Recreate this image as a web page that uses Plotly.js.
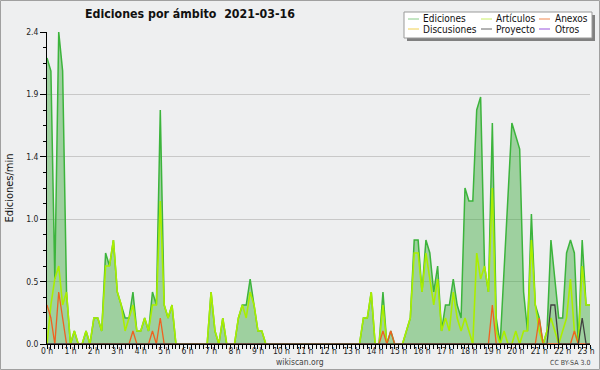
<!DOCTYPE html>
<html>
<head>
<meta charset="utf-8">
<script src="https://cdn.plot.ly/plotly-3.0.1.min.js"></script>
<style>
html,body{margin:0;padding:0;background:#eeeff0;}
#chart{width:600px;height:370px;}
</style>
</head>
<body>
<div id="chart"></div>
<script>
// ---- data (edits per minute, 10-minute steps from 0:00 to 23:10) ----
const hourLabels = ['0 h','1 h','2 h','3 h','4 h','5 h','6 h','7 h','8 h','9 h','10 h','11 h',
                    '12 h','13 h','14 h','15 h','16 h','17 h','18 h','19 h','20 h','21 h','22 h','23 h'];
const hourTicks = [0,1,2,3,4,5,6,7,8,9,10,11,12,13,14,15,16,17,18,19,20,21,22,23];
const stepsPerHour = 6;

const ediciones = [
  2.2,2.1,0.5,2.4,2.1,0.4,
  0,0.1,0,0,0.1,0,
  0.2,0.2,0.1,0.7,0.6,0.8,
  0.4,0.3,0.2,0.2,0.4,0.1,
  0.1,0.2,0.1,0.4,0.3,1.8,
  0.3,0.2,0.3,0,0,0,
  0,0,0,0,0,0,
  0.4,0.1,0,0.2,0,0,
  0,0.2,0.3,0.3,0.5,0.3,
  0.1,0.1,0,0,0,0,
  0,0,0,0,0,0,
  0,0,0,0,0,0,
  0,0,0,0,0,0,
  0,0,0,0.2,0.2,0.4,
  0,0,0.4,0,0.1,0,
  0,0,0.1,0.2,0.8,0.8,
  0.4,0.8,0.7,0.4,0.6,0.1,
  0.3,0.3,0.5,0.3,0.2,1.2,
  1.1,1.1,1.8,1.9,0.6,0.4,
  1.7,0.2,0,0.6,1.1,1.7,
  1.6,1.5,0.4,0.1,1.0,0.3,
  0.2,0,0.1,0.8,0.5,0.2,
  0.2,0.7,0.8,0.7,0,0.8,
  0.3,0.3
];
const articulos = [
  0,0.3,0.5,0.6,0.3,0.4,
  0,0.1,0,0,0.1,0,
  0.2,0.2,0.1,0.6,0.6,0.8,
  0.4,0.3,0.1,0.2,0.3,0.1,
  0.1,0.2,0.1,0.3,0.3,1.1,
  0.3,0.2,0.3,0,0,0,
  0,0,0,0,0,0,
  0.4,0.1,0,0.2,0,0,
  0,0.2,0.3,0.2,0.4,0.3,
  0.1,0.1,0,0,0,0,
  0,0,0,0,0,0,
  0,0,0,0,0,0,
  0,0,0,0,0,0,
  0,0,0,0.2,0.2,0.4,
  0,0,0.3,0,0,0,
  0,0,0.1,0.2,0.7,0.7,
  0.4,0.7,0.5,0.3,0.5,0.1,
  0.2,0.1,0.4,0.2,0.1,0.2,
  0.1,0,0.7,0.5,0.6,0.4,
  1.2,0.1,0,0.1,0,0,
  0.1,0,0.1,0.1,0.8,0.3,
  0.1,0,0.1,0.2,0.1,0,
  0.1,0.2,0.5,0.1,0,0.6,
  0.3,0.3
];
const anexos = [
  0.3,0.2,0,0.4,0.2,0,
  0,0,0,0,0,0,
  0,0,0,0,0,0,
  0,0,0,0,0.1,0,
  0,0,0,0.1,0,0.2,
  0,0,0,0,0,0,
  0,0,0,0,0,0,
  0,0,0,0,0,0,
  0,0,0,0,0,0,
  0,0,0,0,0,0,
  0,0,0,0,0,0,
  0,0,0,0,0,0,
  0,0,0,0,0,0,
  0,0,0,0,0,0,
  0,0,0.1,0,0.1,0,
  0,0,0,0,0,0,
  0,0,0,0,0,0,
  0,0,0,0,0,0,
  0,0,0,0,0,0,
  0.3,0,0,0,0,0,
  0,0,0,0,0,0,
  0.2,0,0,0,0,0,
  0,0,0,0.1,0,0,
  0,0
];
const discusiones = [
  0,0,0,0,0,0, 0,0,0,0,0,0, 0,0,0,0,0,0, 0,0,0,0,0,0,
  0,0,0,0,0,0, 0,0,0,0,0,0, 0,0,0,0,0,0, 0,0,0,0,0,0,
  0,0,0,0,0,0, 0,0,0,0,0,0, 0,0,0,0,0,0, 0,0,0,0,0,0,
  0,0,0,0,0,0, 0,0,0,0,0,0, 0,0,0,0,0,0, 0,0,0,0,0,0,
  0,0,0,0,0,0, 0,0,0,0,0,0, 0,0,0,0,0,0, 0,0,0,0,0,0,
  0,0,0,0,0,0, 0,0,0,0,0,0, 0,0,0,0,0,0,
  0,0
];
const proyecto = [
  0,0,0,0,0,0, 0,0,0,0,0,0, 0,0,0,0,0,0, 0,0,0,0,0,0,
  0,0,0,0,0,0, 0,0,0,0,0,0, 0,0,0,0,0,0, 0,0,0,0,0,0,
  0,0,0,0,0,0, 0,0,0,0,0,0, 0,0,0,0,0,0, 0,0,0,0,0,0,
  0,0,0,0,0,0, 0,0,0,0,0,0, 0,0,0,0,0,0, 0,0,0,0,0,0,
  0,0,0,0,0,0, 0,0,0,0,0,0, 0,0,0,0,0,0, 0,0,0,0,0,0,
  0,0,0,0,0,0,
  0,0,0,0.3,0.3,0,
  0,0,0,0,0,0.2,
  0,0
];
const otros = [
  0,0,0,0,0,0, 0,0,0,0,0,0, 0,0,0,0,0,0, 0,0,0,0,0,0,
  0,0,0,0,0,0, 0,0,0,0,0,0, 0,0,0,0,0,0, 0,0,0,0,0,0,
  0,0,0,0,0,0, 0,0,0,0,0,0, 0,0,0,0,0,0, 0,0,0,0,0,0,
  0,0,0,0,0,0, 0,0,0,0,0,0, 0,0,0,0,0,0, 0,0,0,0,0,0,
  0,0,0,0,0,0, 0,0,0,0,0,0, 0,0,0,0,0,0, 0,0,0,0,0,0,
  0,0,0,0,0,0, 0,0,0,0,0,0, 0,0,0,0,0,0,
  0,0
];
const yTickVals = [0,0.48,0.96,1.44,1.92,2.4];
const yTickText = ['0.0','0.5','1.0','1.4','1.9','2.4'];
const seriesNames = ['Ediciones','Artículos','Anexos','Discusiones','Proyecto','Otros'];

// ---- build ----
const times = ediciones.map((_, i) => i / stepsPerHour);
const FONT = "'DejaVu Sans Condensed', 'DejaVu Sans', sans-serif";
const W = 600, H = 370, L = 47, R = 10, T = 32, B = 26;
const pw = W - L - R, ph = H - T - B;
const px = v => (v - L) / pw;
const py = v => (H - B - v) / ph;

const lineColors = {
  'Ediciones':'#3cb43c', 'Artículos':'#aaee00', 'Anexos':'#f06020',
  'Discusiones':'#f0c800', 'Proyecto':'#404040', 'Otros':'#8040e0'
};
const legendColors = {
  'Ediciones':'#88cc88', 'Artículos':'#c8ee66', 'Anexos':'#f08850',
  'Discusiones':'#f0d050', 'Proyecto':'#666666', 'Otros':'#9955dd'
};

function line(name, y, width) {
  return {type:'scatter', mode:'lines', x: times, y: y, name: name, showlegend:false,
          line:{color: lineColors[name], width: width}, hoverinfo:'skip'};
}
const traces = [
  {type:'scatter', mode:'lines', x: times, y: ediciones, name:'Ediciones', showlegend:false,
   fill:'tozeroy', fillcolor:'rgba(60,170,60,0.45)', line:{color:lineColors['Ediciones'], width:1.5}, hoverinfo:'skip'},
  line('Discusiones', discusiones, 1.2),
  line('Otros', otros, 1.2),
  line('Artículos', articulos, 1.6),
  line('Anexos', anexos, 1.3),
  line('Proyecto', proyecto, 1.3)
];

// legend drawn as a boxed 3x2 grid
const shapes = [
  {type:'rect', xref:'paper', yref:'paper', x0:px(0.5), x1:px(599.5), y0:py(369.5), y1:py(0.5),
   line:{color:'#a0a0a0', width:1}, fillcolor:'rgba(0,0,0,0)', layer:'below'},
  {type:'rect', xref:'paper', yref:'paper', x0:px(407), x1:px(595), y0:py(41), y1:py(15),
   line:{width:0}, fillcolor:'#808080'},
  {type:'rect', xref:'paper', yref:'paper', x0:px(404), x1:px(592), y0:py(38), y1:py(12),
   line:{color:'#999999', width:1}, fillcolor:'#ffffff'}
];
const annotations = [
  {text:'wikiscan.org', xref:'paper', yref:'paper', x:px(300), y:py(362), showarrow:false,
   xanchor:'center', yanchor:'middle', borderpad:0, font:{family:FONT, size:8.5, color:'#444'}},
  {text:'CC BY-SA 3.0', xref:'paper', yref:'paper', x:px(570), y:py(362.5), showarrow:false,
   xanchor:'center', yanchor:'middle', borderpad:0, font:{family:FONT, size:7, color:'#444'}}
];
const colLine = [408, 481, 539], colText = [422, 495, 554], rowY = [19, 29];
seriesNames.forEach((n, k) => {
  const c = k % 3, r = Math.floor(k / 3);
  shapes.push({type:'line', xref:'paper', yref:'paper', x0:px(colLine[c]), x1:px(colLine[c] + 11),
               y0:py(rowY[r]), y1:py(rowY[r]), line:{color:legendColors[n], width:1}});
  annotations.push({text:n, xref:'paper', yref:'paper', x:px(colText[c]), y:py(rowY[r]),
                    showarrow:false, xanchor:'left', yanchor:'middle', borderpad:0,
                    font:{family:FONT, size:10, color:'#111'}});
});

const layout = {
  width: W, height: H,
  margin: {l:L, r:R, t:T, b:B, pad:0},
  paper_bgcolor:'#eeeff0', plot_bgcolor:'#eeeff0',
  showlegend:false,
  title: {text:'Ediciones por ámbito\u00a0\u00a02021-03-16', xref:'container', yref:'container',
          x: 85/W, xanchor:'left', y: 1 - 14/H, yanchor:'middle',
          font:{family:FONT, size:12.3, weight:'bold', color:'#111'}},
  xaxis: {range:[0, times[times.length - 1]], tickmode:'array', tickvals: hourTicks, ticktext: hourLabels,
          ticks:'outside', ticklen:4, tickwidth:1, tickcolor:'#000',
          minor:{tick0:0, dtick:1/stepsPerHour, ticks:'outside', ticklen:4, tickwidth:1, tickcolor:'#000', showgrid:false},
          showgrid:false, zeroline:false, showline:true, linecolor:'#000', linewidth:1,
          tickfont:{family:FONT, size:8.5, color:'#222'}, ticklabelstandoff:-5, fixedrange:true},
  yaxis: {range:[0, 2.4], tickmode:'array', tickvals: yTickVals, ticktext: yTickText,
          ticks:'outside', ticklen:6, tickwidth:1, tickcolor:'#000',
          minor:{tick0:0, dtick:0.12, ticks:'outside', ticklen:3, tickwidth:1, tickcolor:'#000', showgrid:false},
          showgrid:true, gridcolor:'#c8c8c8', gridwidth:1, zeroline:false,
          showline:true, linecolor:'#000', linewidth:1,
          tickfont:{family:FONT, size:8.5, color:'#222'},
          title:{text:'Ediciones/min', font:{family:FONT, size:11, color:'#111'}, standoff:10},
          fixedrange:true},
  shapes: shapes,
  annotations: annotations
};
Plotly.newPlot('chart', traces, layout, {displayModeBar:false, staticPlot:true});
</script>
</body>
</html>
